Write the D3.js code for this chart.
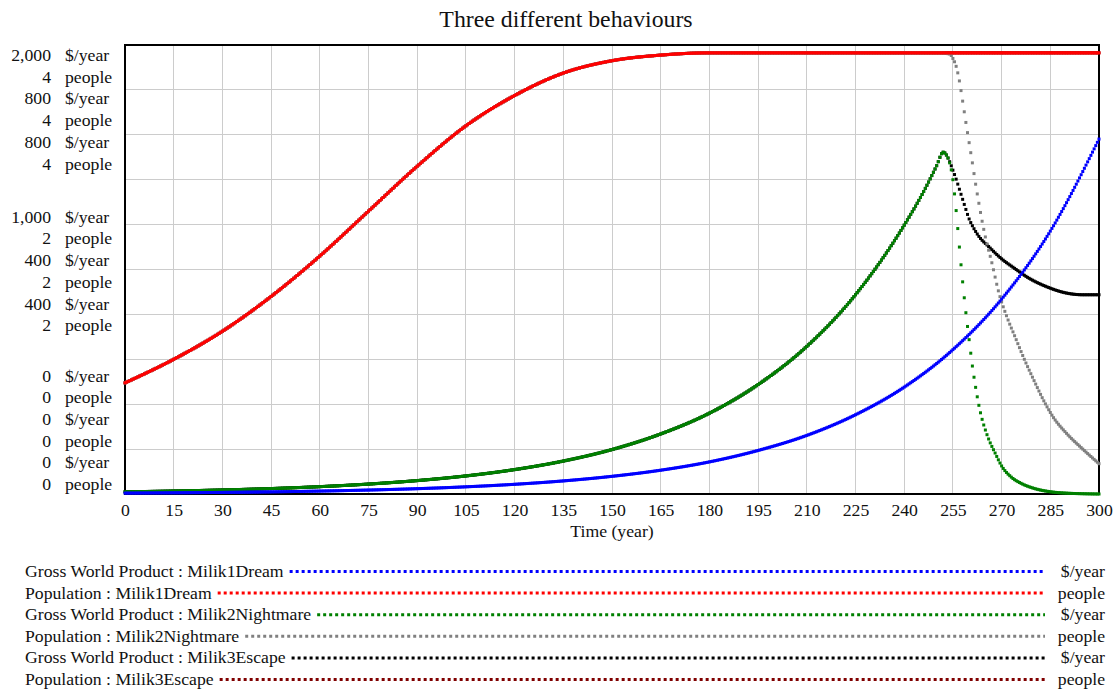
<!DOCTYPE html>
<html>
<head>
<meta charset="utf-8">
<script src="https://cdn.jsdelivr.net/npm/d3@7"></script>
<style>
    body { margin: 0; background: #fff; }
    text { font-family: "Liberation Serif", "Times New Roman", serif; fill: #111; }
</style>
</head>
<body>
<div id="chart"></div>
<script>
// time axis
const timeTicks = [0, 15, 30, 45, 60, 75, 90, 105, 120, 135, 150, 165, 180, 195, 210, 225, 240, 255, 270, 285, 300];

// Milik1Dream (read at 15 year steps)
const yearsDream = [0, 15, 30, 45, 60, 75, 90, 105, 120, 135, 150, 165, 180, 195, 210, 225, 240, 255, 270, 285, 300];
const gwpDream = [3.9, 5.3, 7.1, 9.6, 13, 17.6, 23.7, 32, 43.2, 58.3, 78.7, 106, 143, 194, 261, 353, 476, 643, 868, 1171, 1581];
const popDream = [0.99, 1.20, 1.45, 1.76, 2.12, 2.52, 2.92, 3.28, 3.55, 3.75, 3.86, 3.91, 3.93, 3.93, 3.93, 3.93, 3.93, 3.93, 3.93, 3.93, 3.93];

// growth phase shared by Milik2Nightmare and Milik3Escape
const yearsRise = [0, 15, 30, 45, 60, 75, 90, 105, 120, 135, 150, 165, 180, 195, 210, 225, 240, 246, 250, 252];
const gwpRise = [3.9, 5.3, 7.2, 9.7, 13.1, 17.7, 23.9, 32.2, 43.5, 58.7, 79.2, 107, 144, 195, 263, 355, 479, 539, 585, 609];

// Milik2Nightmare collapse
const yearsCollapse = [253, 254, 255, 256, 257, 258, 259, 260, 261, 262, 263, 264, 265, 266, 268, 270, 273, 276, 280, 285, 290, 295, 300];
const gwpNightmareFall = [604, 590, 560, 505, 440, 378, 323, 275, 228, 190, 158, 133, 114, 98, 73, 50, 30, 19, 10, 4, 1.5, 0.5, 0];
const yearsPopFall = [250, 254, 255, 256, 257, 258, 259, 260, 261, 262, 263, 264, 265, 267, 269, 272, 274, 277, 280, 283, 286, 290, 295, 300];
const popNightmareFall = [3.93, 3.92, 3.88, 3.81, 3.68, 3.50, 3.31, 3.13, 2.95, 2.76, 2.59, 2.43, 2.29, 2.06, 1.81, 1.55, 1.41, 1.20, 1.01, 0.83, 0.68, 0.54, 0.40, 0.27];

// Milik3Escape
const yearsEscapeFall = [253, 254, 255, 256, 257, 258, 259, 260, 261, 263, 266, 270, 274, 278, 284, 290, 295, 300];
const gwpEscapeFall = [604, 592, 577, 561, 543, 525, 507, 490, 478, 459, 441, 419, 402, 386, 369, 358, 355, 355];
const popEscape = [0.99, 1.20, 1.45, 1.76, 2.12, 2.52, 2.92, 3.28, 3.55, 3.75, 3.86, 3.91, 3.93, 3.93, 3.93, 3.93, 3.93, 3.93, 3.93, 3.93, 3.93];

const seriesNames = ["Gross World Product : Milik1Dream", "Population : Milik1Dream",
    "Gross World Product : Milik2Nightmare", "Population : Milik2Nightmare",
    "Gross World Product : Milik3Escape", "Population : Milik3Escape"];
const seriesUnits = ["$/year", "people", "$/year", "people", "$/year", "people"];
const seriesMax = [2000, 4, 800, 4, 800, 4];
const seriesColors = ["#0000ff", "#ff0000", "#008000", "#808080", "#000000", "#800000"];

const seriesPts = [
    d3.zip(yearsDream, gwpDream),
    d3.zip(yearsDream, popDream),
    d3.zip(yearsRise, gwpRise).concat(d3.zip(yearsCollapse, gwpNightmareFall)),
    d3.zip(yearsDream.slice(0, 17), popDream.slice(0, 17)).concat(d3.zip(yearsPopFall, popNightmareFall)),
    d3.zip(yearsRise, gwpRise).concat(d3.zip(yearsEscapeFall, gwpEscapeFall)),
    d3.zip(yearsDream, popEscape)
];

const series = seriesNames.map((name, i) => ({
    name: name, unit: seriesUnits[i], max: seriesMax[i], color: seriesColors[i], pts: seriesPts[i]
}));

const width = 1116, height = 691;
const plotLeft = 125, plotRight = 1099, plotTop = 45, plotBottom = 494;
const saveStep = 0.5; // one dot per saved time step, like the simulator plot
const fontSize = "17.7px";

const x = d3.scaleLinear().domain([0, 300]).range([plotLeft, plotRight]);
const gridY = d3.scaleLinear().domain([0, 10]).range([plotBottom, plotTop]);

const svg = d3.select("#chart").append("svg")
    .attr("width", width)
    .attr("height", height);

svg.append("text")
    .attr("x", 566)
    .attr("y", 27)
    .attr("text-anchor", "middle")
    .style("font-size", "23.8px")
    .text("Three different behaviours");

// grid
const grid = svg.append("g")
    .attr("stroke", "#cccccc")
    .attr("stroke-width", 1)
    .attr("shape-rendering", "crispEdges");

grid.selectAll(".h")
    .data(d3.range(1, 10))
    .enter().append("line")
    .attr("x1", plotLeft).attr("x2", plotRight)
    .attr("y1", d => gridY(d)).attr("y2", d => gridY(d));

grid.selectAll(".v")
    .data(timeTicks.slice(1, -1))
    .enter().append("line")
    .attr("y1", plotTop).attr("y2", plotBottom)
    .attr("x1", d => x(d)).attr("x2", d => x(d));

svg.append("rect")
    .attr("x", plotLeft).attr("y", plotTop)
    .attr("width", plotRight - plotLeft).attr("height", plotBottom - plotTop)
    .attr("fill", "none")
    .attr("stroke", "#000")
    .attr("stroke-width", 2);

// x axis
const xAxis = svg.append("g")
    .attr("transform", "translate(0," + plotBottom + ")")
    .call(d3.axisBottom(x).tickValues(timeTicks).tickSize(0).tickPadding(9.5));
xAxis.select(".domain").remove();
xAxis.selectAll("text")
    .style("font-size", fontSize)
    .style("font-family", "'Liberation Serif', 'Times New Roman', serif")
    .attr("fill", "#111");

svg.append("text")
    .attr("x", (plotLeft + plotRight) / 2)
    .attr("y", 537)
    .attr("text-anchor", "middle")
    .style("font-size", fontSize)
    .text("Time (year)");

// stacked value labels, one row per series at top, middle and bottom
const rowGap = 21.7;
const fmt = d3.format(",");
series.forEach(function (s, i) {
    const y = d3.scaleLinear().domain([0, s.max]).range([plotBottom, plotTop]);
    [s.max, s.max / 2, 0].forEach(function (v, k) {
        let base;
        if (k == 0) base = y(v) + 16 + i * rowGap;
        else if (k == 1) base = y(v) + 7.5 + (i - 2.5) * rowGap;
        else base = y(v) - 4 - (5 - i) * rowGap;
        svg.append("text")
            .attr("x", 51).attr("y", base)
            .attr("text-anchor", "end")
            .style("font-size", fontSize)
            .text(fmt(v));
        svg.append("text")
            .attr("x", 65).attr("y", base)
            .style("font-size", fontSize)
            .text(s.unit);
    });
});

// curves drawn as small squares at each saved step, first series on top
const plot = svg.append("g");
series.slice().reverse().forEach(function (s) {
    const y = d3.scaleLinear().domain([0, s.max]).range([plotBottom, plotTop]);
    const line = d3.line()
        .x(d => x(d[0]))
        .y(d => y(d[1]))
        .curve(d3.curveMonotoneX);
    const guide = plot.append("path").attr("d", line(s.pts)).attr("fill", "none");
    const node = guide.node(), len = node.getTotalLength();
    const samples = [];
    for (let l = 0; l < len; l += 0.5) samples.push(node.getPointAtLength(l));
    samples.push(node.getPointAtLength(len));
    guide.remove();

    const byX = d3.bisector(p => p.x).left;
    const t0 = s.pts[0][0], t1 = s.pts[s.pts.length - 1][0];
    const dots = d3.range(Math.ceil(t0 / saveStep), Math.floor(t1 / saveStep) + 1).map(function (k) {
        const px = x(k * saveStep);
        const i = Math.max(1, Math.min(samples.length - 1, byX(samples, px)));
        const a = samples[i - 1], b = samples[i];
        const f = b.x === a.x ? 0 : (px - a.x) / (b.x - a.x);
        return [px, a.y + (b.y - a.y) * f];
    });

    plot.append("g")
        .attr("fill", s.color)
        .selectAll("rect")
        .data(dots)
        .enter().append("rect")
        .attr("x", d => d[0] - 1.5)
        .attr("y", d => d[1] - 1.5)
        .attr("width", 3)
        .attr("height", 3);
});

// legend
const legend = svg.append("g");
series.forEach(function (s, i) {
    const base = 577 + i * 21.6;
    const label = legend.append("text")
        .attr("x", 25).attr("y", base)
        .style("font-size", fontSize)
        .text(s.name);
    const w = label.node().getComputedTextLength();
    legend.append("line")
        .attr("x1", 25 + w + 6).attr("x2", 1045)
        .attr("y1", base - 5.5).attr("y2", base - 5.5)
        .attr("stroke", s.color)
        .attr("stroke-width", 3)
        .attr("stroke-dasharray", "3,3");
    legend.append("text")
        .attr("x", 1105).attr("y", base)
        .attr("text-anchor", "end")
        .style("font-size", fontSize)
        .text(s.unit);
});
</script>
</body>
</html>
